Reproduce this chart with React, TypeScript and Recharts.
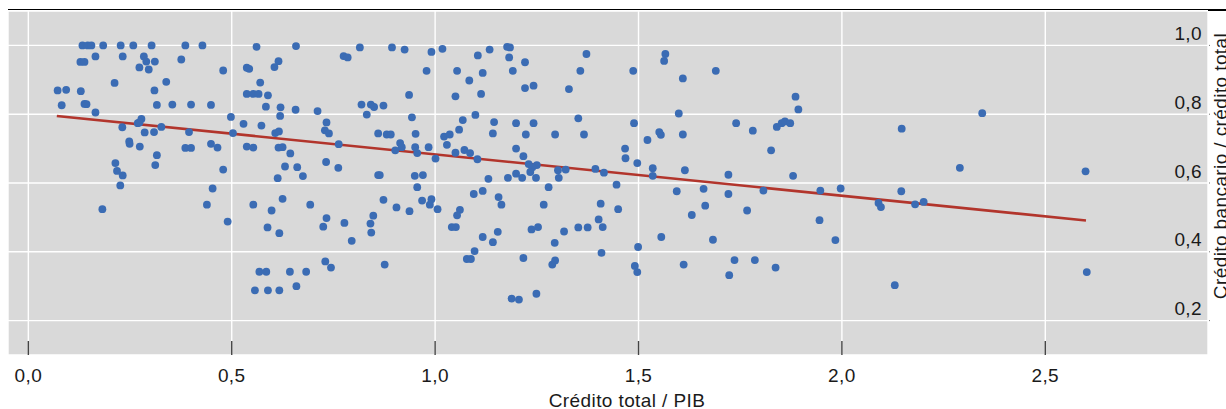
import React from 'react';
import { ScatterChart, Scatter, XAxis, YAxis, CartesianGrid } from 'recharts';

// Crédito total / PIB
const creditToGdp: number[] = [
  0.133, 0.146, 0.155, 0.184, 0.227, 0.258, 0.303, 0.386, 0.428, 0.561, 0.658, 0.815, 0.894, 0.925,
  0.165, 0.128, 0.138, 0.232, 0.284, 0.290, 0.311, 0.273, 0.296, 0.376, 0.479, 0.537, 0.543, 0.615,
  0.605, 0.775, 0.785, 0.212, 0.339, 0.570, 0.072, 0.093, 0.129, 0.310, 0.537, 0.553, 0.566, 0.589,
  0.936, 0.082, 0.138, 0.143, 0.165, 0.316, 0.354, 0.400, 0.449, 0.584, 0.620, 0.657, 0.711, 0.819,
  0.842, 0.850, 0.873, 0.832, 0.619, 0.498, 0.943, 0.278, 0.269, 0.273, 0.231, 0.327, 0.529, 0.573,
  0.733, 0.286, 0.309, 0.395, 0.503, 0.607, 0.616, 0.729, 0.739, 0.860, 0.881, 0.891, 0.952, 0.248,
  0.249, 0.274, 0.386, 0.400, 0.449, 0.465, 0.537, 0.553, 0.615, 0.625, 0.644, 0.763, 0.914, 0.918,
  0.902, 0.951, 0.956, 0.316, 0.214, 0.312, 0.218, 0.232, 0.226, 0.479, 0.631, 0.661, 0.675, 0.732,
  0.762, 0.860, 0.864, 0.613, 0.950, 0.956, 0.453, 0.625, 0.873, 0.182, 0.439, 0.490, 0.553, 0.598,
  0.693, 0.733, 0.725, 0.588, 0.617, 0.777, 0.795, 0.841, 0.848, 0.843, 0.905, 0.937, 0.730, 0.744,
  0.876, 0.568, 0.585, 0.643, 0.683, 0.557, 0.589, 0.617, 0.659,
  0.991, 1.018, 0.979, 1.054, 1.105, 1.134, 1.177, 1.184, 1.182, 1.221, 1.191, 1.117, 1.084, 1.050,
  1.113, 1.221, 1.242, 1.329, 1.357, 1.372, 1.487, 1.566, 1.563, 1.609, 1.690, 1.099, 1.068, 1.145,
  1.199, 1.242, 1.352, 1.489, 1.599, 1.740, 1.886, 1.893, 1.022, 1.036, 1.059, 1.142, 1.223, 1.295,
  1.366, 1.551, 1.555, 1.609, 1.781, 1.840, 1.852, 1.860, 1.873, 0.984, 1.029, 1.050, 1.072, 1.086,
  1.001, 1.104, 1.199, 1.217, 1.230, 1.250, 1.239, 1.234, 1.248, 1.302, 1.304, 1.321, 1.394, 1.415,
  1.467, 1.468, 1.497, 1.522, 1.535, 1.535, 1.614, 1.826, 1.721, 1.880, 0.970, 1.131, 1.179, 1.199,
  1.214, 1.279, 1.446, 1.095, 1.117, 1.156, 0.968, 0.991, 1.594, 1.660, 1.721, 1.807, 1.947,
  0.987, 1.006, 1.163, 1.267, 1.061, 1.054, 1.041, 1.051, 1.117, 1.142, 1.154, 1.097, 1.078, 1.088,
  1.217, 1.237, 1.253, 1.317, 1.294, 1.288, 1.295, 1.352, 1.375, 1.402, 1.412, 1.407, 1.450, 1.409,
  1.188, 1.206, 1.249, 1.499, 1.491, 1.497, 1.556, 1.611, 1.664, 1.631, 1.683, 1.767, 1.736, 1.786,
  1.723, 1.837, 1.945,
  2.345, 2.147, 2.290, 2.599, 1.997, 2.146, 2.090, 2.096, 2.180, 2.201, 1.984, 2.130, 2.602,
];

// Crédito bancario / crédito total
const bankShare: number[] = [
  1.000, 1.000, 1.000, 1.000, 1.000, 1.000, 1.000, 1.000, 1.000, 0.996, 0.998, 0.994, 0.994, 0.988,
  0.968, 0.952, 0.952, 0.968, 0.968, 0.953, 0.953, 0.936, 0.930, 0.959, 0.927, 0.935, 0.932, 0.954,
  0.937, 0.969, 0.965, 0.891, 0.894, 0.892, 0.869, 0.871, 0.867, 0.869, 0.859, 0.859, 0.859, 0.855,
  0.856, 0.826, 0.830, 0.829, 0.805, 0.827, 0.828, 0.828, 0.827, 0.822, 0.820, 0.813, 0.809, 0.828,
  0.828, 0.821, 0.825, 0.799, 0.795, 0.792, 0.791, 0.786, 0.774, 0.776, 0.762, 0.763, 0.772, 0.767,
  0.776, 0.747, 0.748, 0.748, 0.745, 0.745, 0.750, 0.753, 0.744, 0.744, 0.741, 0.741, 0.743, 0.721,
  0.714, 0.706, 0.702, 0.702, 0.714, 0.703, 0.706, 0.703, 0.703, 0.704, 0.686, 0.713, 0.716, 0.704,
  0.695, 0.704, 0.687, 0.681, 0.658, 0.652, 0.635, 0.622, 0.593, 0.639, 0.648, 0.646, 0.620, 0.661,
  0.644, 0.623, 0.623, 0.614, 0.621, 0.588, 0.584, 0.554, 0.551, 0.524, 0.537, 0.488, 0.537, 0.520,
  0.537, 0.498, 0.473, 0.471, 0.454, 0.484, 0.432, 0.482, 0.505, 0.456, 0.529, 0.518, 0.372, 0.354,
  0.363, 0.342, 0.342, 0.342, 0.342, 0.288, 0.288, 0.288, 0.300,
  0.981, 0.990, 0.926, 0.926, 0.971, 0.988, 0.996, 0.994, 0.965, 0.951, 0.926, 0.920, 0.898, 0.852,
  0.859, 0.876, 0.883, 0.873, 0.926, 0.975, 0.926, 0.975, 0.955, 0.904, 0.926, 0.798, 0.783, 0.777,
  0.774, 0.774, 0.788, 0.774, 0.802, 0.774, 0.851, 0.814, 0.735, 0.741, 0.755, 0.744, 0.741, 0.741,
  0.741, 0.748, 0.740, 0.741, 0.752, 0.763, 0.774, 0.779, 0.774, 0.704, 0.711, 0.688, 0.696, 0.687,
  0.671, 0.669, 0.700, 0.678, 0.655, 0.652, 0.646, 0.632, 0.615, 0.637, 0.615, 0.639, 0.641, 0.630,
  0.700, 0.672, 0.658, 0.725, 0.643, 0.621, 0.637, 0.695, 0.624, 0.621, 0.623, 0.612, 0.615, 0.627,
  0.615, 0.588, 0.595, 0.568, 0.577, 0.559, 0.549, 0.553, 0.576, 0.583, 0.568, 0.578, 0.578,
  0.537, 0.524, 0.537, 0.537, 0.522, 0.506, 0.472, 0.472, 0.443, 0.428, 0.458, 0.402, 0.379, 0.379,
  0.382, 0.465, 0.472, 0.459, 0.426, 0.363, 0.375, 0.471, 0.471, 0.494, 0.472, 0.540, 0.524, 0.397,
  0.264, 0.261, 0.278, 0.414, 0.359, 0.341, 0.443, 0.363, 0.534, 0.507, 0.435, 0.520, 0.376, 0.376,
  0.332, 0.354, 0.492,
  0.803, 0.758, 0.644, 0.634, 0.584, 0.576, 0.542, 0.530, 0.538, 0.545, 0.434, 0.303, 0.341,
];

// fitted line endpoints
const trendX: number[] = [0.07, 2.6];
const trendY: number[] = [0.795, 0.491];

const xTicks: number[] = [0, 0.5, 1, 1.5, 2, 2.5];
const yTicks: number[] = [0.2, 0.4, 0.6, 0.8, 1.0];

const points = creditToGdp.map((x, i) => ({ x, y: bankShare[i] }));
const trend = trendX.map((x, i) => ({ x, y: trendY[i] }));

const FONT = '"Liberation Sans", Arial, Helvetica, sans-serif';
const fmt = (v: number) => v.toFixed(1).replace('.', ',');

const XTick = (props: any) => {
  const { x, y, payload } = props;
  return (
    <g>
      <line x1={x} x2={x} y1={y - 14} y2={y} stroke="#444444" strokeWidth={1.4} />
      <text x={x} y={y + 27} textAnchor="middle" fontFamily={FONT} fontSize={19} letterSpacing={0.4} fill="#1a1a1a">
        {fmt(payload.value)}
      </text>
    </g>
  );
};

const YTick = (props: any) => {
  const { x, y, payload } = props;
  return (
    <g>
      <rect x={x + 1} y={y - 0.5} width={1} height={1} fill="#777777" />
      <text x={x - 6} y={y - 5.5} textAnchor="end" fontFamily={FONT} fontSize={19} letterSpacing={0.4} fill="#1a1a1a">
        {fmt(payload.value)}
      </text>
    </g>
  );
};

const Dot = (props: any) => {
  const { cx, cy } = props;
  if (cx == null || cy == null) return <g />;
  return <circle cx={cx} cy={cy} r={3.9} fill="#3b6cb4" />;
};

const NoDot = () => <g />;

export default function App() {
  return (
    <div style={{ position: 'absolute', left: 0, top: 0, width: 1226, height: 409, background: '#ffffff' }}>
      <div style={{ position: 'absolute', left: 8, top: 9, width: 1200, height: 1, background: '#000000' }} />
      <div style={{ position: 'absolute', left: 1208, top: 9, width: 18, height: 2, background: '#000000' }} />
      <ScatterChart
        width={1226}
        height={409}
        margin={{ top: 11, right: 0, bottom: 0, left: 8 }}
        style={{ position: 'absolute', left: 0, top: 0 }}
      >
        <CartesianGrid fill="#d9d9d9" fillOpacity={1} stroke="#ffffff" strokeWidth={1.4} />
        <XAxis
          dataKey="x"
          type="number"
          domain={[-0.05, 2.9]}
          ticks={xTicks}
          allowDataOverflow
          height={54}
          axisLine={false}
          tickLine={false}
          tickSize={0}
          tickMargin={0}
          tick={<XTick />}
          interval={0}
          label={{
            content: (p: any) => {
              const vb = p.viewBox || {};
              return (
                <text x={vb.x + vb.width / 2 + 19} y={vb.y + 52} textAnchor="middle" fontFamily={FONT} fontSize={19} letterSpacing={0.4} fill="#1a1a1a">
                  Crédito total / PIB
                </text>
              );
            },
          }}
        />
        <YAxis
          dataKey="y"
          type="number"
          orientation="right"
          domain={[0.1, 1.1]}
          ticks={yTicks}
          allowDataOverflow
          width={18}
          axisLine={false}
          tickLine={false}
          tickSize={0}
          tickMargin={0}
          tick={<YTick />}
          interval={0}
          label={{
            content: (p: any) => {
              const vb = p.viewBox || {};
              const cx = vb.x + 19;
              const cy = vb.y + 155;
              return (
                <text x={cx} y={cy} transform={`rotate(-90 ${cx} ${cy})`} textAnchor="middle" fontFamily={FONT} fontSize={19} letterSpacing={0.4} fill="#1a1a1a">
                  Crédito bancario / crédito total
                </text>
              );
            },
          }}
        />
        <Scatter
          data={trend}
          isAnimationActive={false}
          fill="#b2352c"
          line={{ stroke: '#b2352c', strokeWidth: 2.6 }}
          shape={<NoDot />}
        />
        <Scatter data={points} isAnimationActive={false} fill="#3b6cb4" shape={<Dot />} />
      </ScatterChart>
    </div>
  );
}
